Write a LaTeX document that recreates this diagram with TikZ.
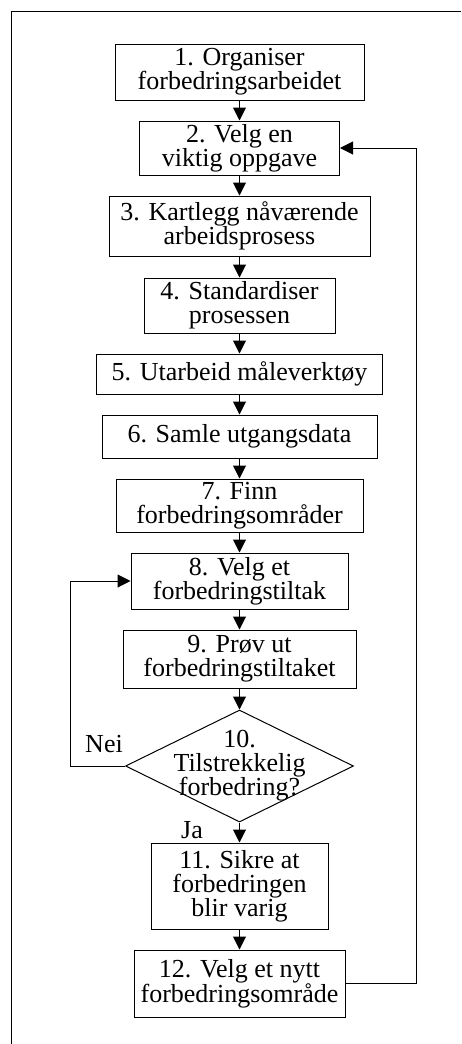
\documentclass[tikz,border=0pt]{standalone}
\usepackage{fontspec}
\setmainfont{Liberation Serif}
\usetikzlibrary{shapes.geometric,arrows.meta}
\tikzset{
  stepbox/.style={draw, line width=1pt, inner sep=0pt, align=center, font=\fontsize{26}{24}\selectfont},
  decision/.style={draw, diamond, aspect=2.04, line width=1pt, inner sep=-12pt, align=center, font=\fontsize{26}{24}\selectfont},
  lbl/.style={inner sep=0pt, font=\fontsize{26}{24}\selectfont},
  flow/.style={line width=1pt, -{Triangle[length=13pt,width=13pt]}}
}
\begin{document}
\begin{tikzpicture}[x=1pt,y=-1pt]
    \useasboundingbox (0,0) rectangle (461,1044);
    % Frame
    \draw[line width=1pt] (11,1044) -- (11,11) -- (461,11);

    % Steps
    \node[stepbox, minimum width=249pt, minimum height=56pt] (b1) at (239.5,72) {1. Organiser\\forbedringsarbeidet};
    \node[stepbox, minimum width=200pt, minimum height=54pt] (b2) at (239.5,148) {2. Velg en\\viktig oppgave};
    \node[stepbox, minimum width=261pt, minimum height=60pt] (b3) at (239.5,226) {3. Kartlegg nåværende\\arbeidsprosess};
    \node[stepbox, minimum width=191pt, minimum height=55pt] (b4) at (239.5,305.5) {4. Standardiser\\prosessen};
    \node[stepbox, minimum width=286pt, minimum height=40pt] (b5) at (239.5,374) {5. Utarbeid måleverktøy};
    \node[stepbox, minimum width=275pt, minimum height=43pt] (b6) at (239.5,436.5) {6. Samle utgangsdata};
    \node[stepbox, minimum width=247pt, minimum height=53pt] (b7) at (239.5,505.5) {7. Finn\\forbedringsområder};
    \node[stepbox, minimum width=217pt, minimum height=56pt] (b8) at (239.5,581) {8. Velg et\\forbedringstiltak};
    \node[stepbox, minimum width=233pt, minimum height=58pt] (b9) at (239.5,659) {9. Prøv ut\\forbedringstiltaket};

    % Decision
    \node[decision, minimum width=228pt, minimum height=112pt] (d10) at (239.5,766) {10.\\Tilstrekkelig\\forbedring?};

    \node[stepbox, minimum width=177pt, minimum height=86pt] (b11) at (239.5,886) {11. Sikre at\\forbedringen\\blir varig};
    \node[stepbox, minimum width=211pt, minimum height=67pt] (b12) at (239.5,983.5) {12. Velg et nytt\\forbedringsområde};

    % Arrows down the chain
    \draw[flow] (b1.south) -- (b2.north);
    \draw[flow] (b2.south) -- (b3.north);
    \draw[flow] (b3.south) -- (b4.north);
    \draw[flow] (b4.south) -- (b5.north);
    \draw[flow] (b5.south) -- (b6.north);
    \draw[flow] (b6.south) -- (b7.north);
    \draw[flow] (b7.south) -- (b8.north);
    \draw[flow] (b8.south) -- (b9.north);
    \draw[flow] (b9.south) -- (d10.north);
    \draw[flow] (d10.south) -- (b11.north);
    \draw[flow] (b11.south) -- (b12.north);

    % Loops back
    \coordinate (loopL) at (70,0);
    \coordinate (loopR) at (416,0);
    \draw[flow] (d10.west) -- (d10.west -| loopL) |- (b8.west);
    \draw[flow] (b12.east) -- (b12.east -| loopR) |- (b2.east);

    % Answers
    \node[lbl] (nei) at (104,744) {Nei};
    \node[lbl] (ja) at (192,830) {Ja};
\end{tikzpicture}
\end{document}
